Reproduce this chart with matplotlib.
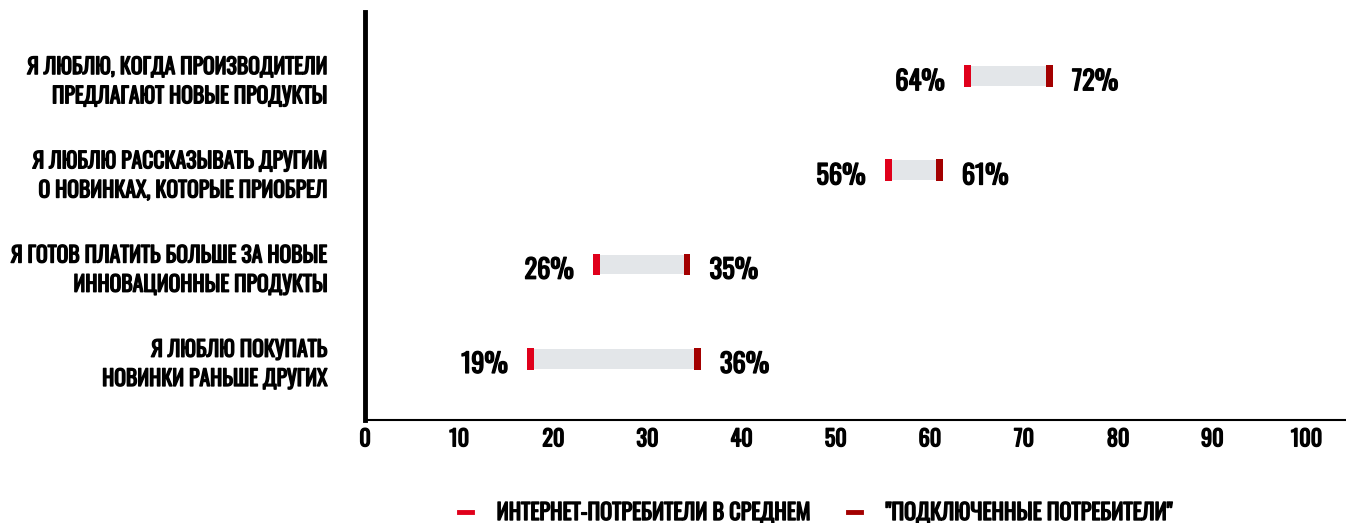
import matplotlib
matplotlib.use("Agg")
import matplotlib.pyplot as plt
import matplotlib.patheffects as pe
from matplotlib.lines import Line2D

# Statements (two-line labels)
statements = [
    "Я ЛЮБЛЮ, КОГДА ПРОИЗВОДИТЕЛИ\nПРЕДЛАГАЮТ НОВЫЕ ПРОДУКТЫ",
    "Я ЛЮБЛЮ РАССКАЗЫВАТЬ ДРУГИМ\nО НОВИНКАХ, КОТОРЫЕ ПРИОБРЕЛ",
    "Я ГОТОВ ПЛАТИТЬ БОЛЬШЕ ЗА НОВЫЕ\nИННОВАЦИОННЫЕ ПРОДУКТЫ",
    "Я ЛЮБЛЮ ПОКУПАТЬ\nНОВИНКИ РАНЬШЕ ДРУГИХ",
]
# marker positions as drawn in the chart
internet_avg = [64.0, 55.6, 24.6, 17.6]
connected = [72.7, 61.0, 34.2, 35.3]
# printed labels
internet_lbl = ["64%", "56%", "26%", "19%"]
connected_lbl = ["72%", "61%", "35%", "36%"]
series_names = ["ИНТЕРНЕТ-ПОТРЕБИТЕЛИ В СРЕДНЕМ", '"ПОДКЛЮЧЕННЫЕ ПОТРЕБИТЕЛИ"']

RED = "#e0001b"
DARK = "#a30000"
GRAY = "#e3e6e9"

plt.rcParams["font.family"] = ["Oswald", "Roboto Condensed", "DejaVu Sans"]

# Oswald only has a regular cut here, so thicken it with a stroke
bold = [pe.withStroke(linewidth=1.0, foreground="black")]

fig = plt.figure(figsize=(13.46, 5.23), dpi=100)
ax = fig.add_axes([365 / 1346, 1 - 420 / 523, 980 / 1346, 408 / 523])

ypos = list(range(len(statements)))
for y, a, b, la, lb in zip(ypos, internet_avg, connected, internet_lbl, connected_lbl):
    ax.barh(y, b - a, left=a, height=0.21, color=GRAY, zorder=1)
    ax.barh(y, 0.7, left=a - 0.35, height=0.23, color=RED, zorder=2)
    ax.barh(y, 0.7, left=b - 0.35, height=0.23, color=DARK, zorder=2)
    ax.text(a - 2.4, y + 0.06, la, ha="right", va="center", fontsize=19, path_effects=bold)
    ax.text(b + 2.4, y + 0.06, lb, ha="left", va="center", fontsize=19, path_effects=bold)

ax.set_xlim(0, 104.1)
ax.set_ylim(3.65, -0.68)
ax.set_xticks(range(0, 101, 10))
ax.set_yticks(ypos)
ax.set_yticklabels(statements, fontsize=15.6, linespacing=1.4)
ax.tick_params(axis="both", length=0)
ax.tick_params(axis="x", labelsize=16, pad=6)
ax.tick_params(axis="y", pad=27)
for lab in ax.get_xticklabels() + ax.get_yticklabels():
    lab.set_path_effects(bold)

ax.spines["top"].set_visible(False)
ax.spines["right"].set_visible(False)
ax.spines["left"].set_linewidth(3.5)
ax.spines["bottom"].set_linewidth(1.5)

handles = [Line2D([0], [0], color=RED, lw=3.5), Line2D([0], [0], color=DARK, lw=3.5)]
leg = fig.legend(handles, series_names, loc="center", bbox_to_anchor=(0.606, 1 - 513 / 523),
                 ncol=2, frameon=False, fontsize=16, handlelength=0.6, handletextpad=1.1,
                 columnspacing=1.7)
for t in leg.get_texts():
    t.set_path_effects(bold)

fig.savefig("out.png", dpi=100)
